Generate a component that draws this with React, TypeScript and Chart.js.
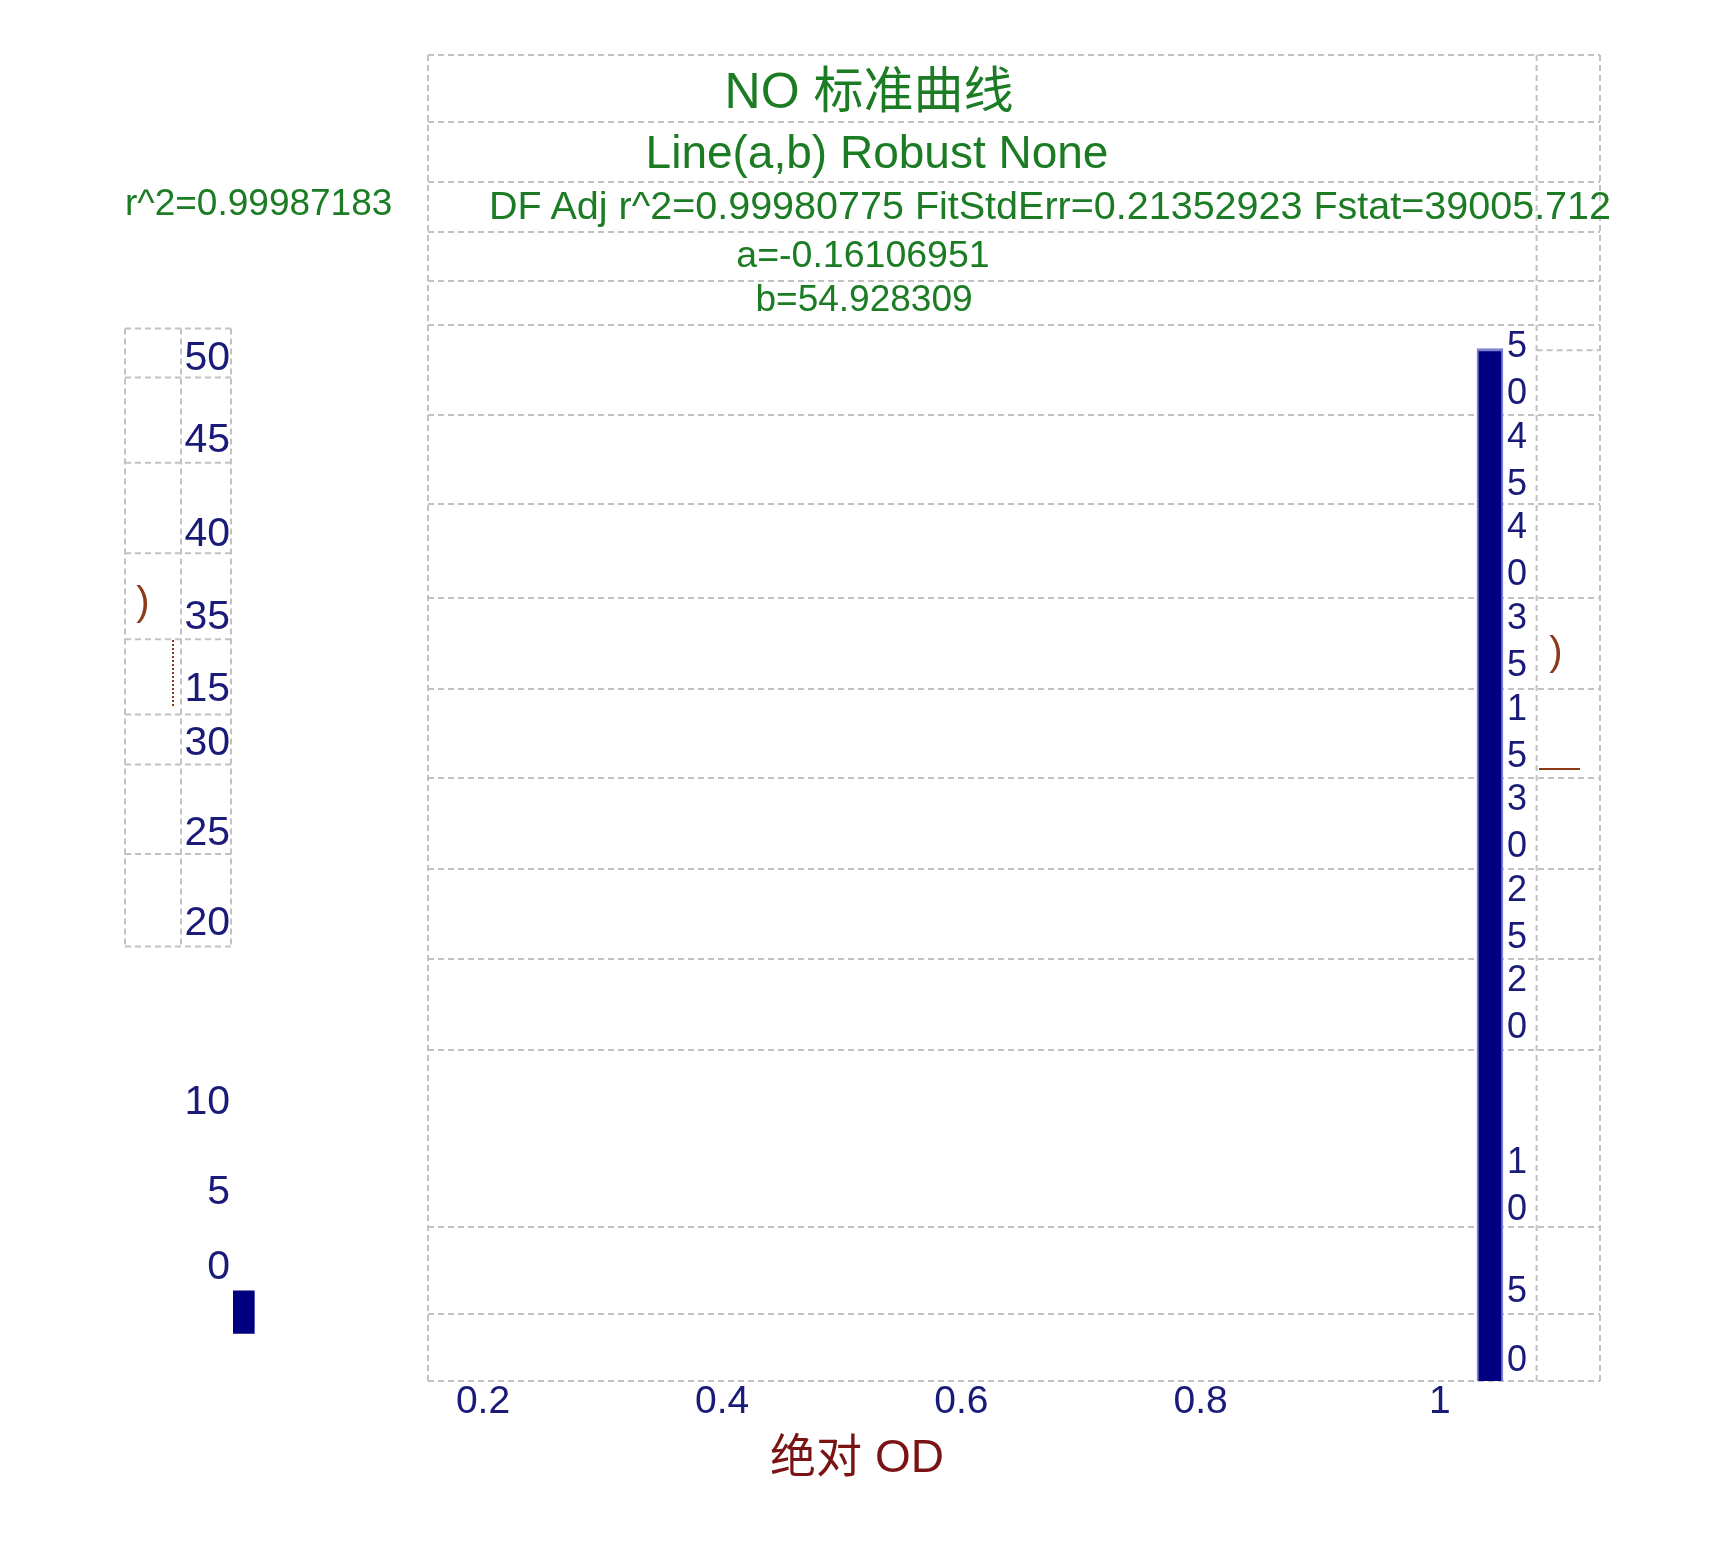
import { useEffect, useRef } from "react";
import { Chart, registerables, ChartConfiguration, Plugin, Scale } from "chart.js";

Chart.register(...registerables);

// x axis (absolute OD)
const xTickValues: number[] = [0.2, 0.4, 0.6, 0.8, 1];
const xMin = 0.154;
const xMax = 1.134;
const dividerX = 1.081;

// y axis is laid out in "slots", the labels are what the picture prints
const yMin = -0.196;
const yMax = 11.46;
const rightTickLabels: string[] = ["50", "45", "40", "35", "15", "30", "25", "20", "10", "5", "0"];
const rightTickSlots: number[] = [10.955, 9.955, 8.955, 7.955, 6.955, 5.955, 4.955, 3.955, 1.955, 0.785, 0.025];
const leftTickLabels: string[] = ["50", "45", "40", "35", "15", "30", "25", "20", "10", "5", "0"];
const leftTickSlots: number[] = [11.09, 10.18, 9.15, 8.23, 7.43, 6.84, 5.85, 4.85, 2.88, 1.88, 1.06];
const gridSlots: number[] = [10.47, 9.48, 8.45, 7.44, 6.46, 5.46, 4.46, 3.46, 1.5, 0.54];
const leftTableSlots: number[] = [11.42, 10.88, 9.94, 8.94, 7.99, 7.16, 6.61, 5.62, 4.6];
const sideRuleSlots: number[] = [11.18];

// bars: x position, low, high
const barX: number[] = [1.042, 0];
const barLow: number[] = [yMin, 0.33];
const barHigh: number[] = [11.2, 0.8];

// header texts
const titleText = "NO 标准曲线";
const fitText = "Line(a,b) Robust None";
const statText = "DF Adj r^2=0.99980775 FitStdErr=0.21352923 Fstat=39005.712";
const aText = "a=-0.16106951";
const bText = "b=54.928309";
const r2Text = "r^2=0.99987183";
const xTitle = "绝对 OD";

const NAVY = "#000080";
const NAVY_TEXT = "#1a1a78";
const GREEN = "#1c7c24";
const BROWN = "#7a1414";
const GRID = "#c2c2c2";
const FONT = '"Liberation Sans", Arial, sans-serif';
const CJK_FONT = '"Liberation Sans", "Noto Sans CJK SC", sans-serif';

const HEADER_ROWS = [55, 122, 182, 232, 281];
const LEFT_TABLE_X = [125, 181, 231];

function setTicks(values: number[]) {
  return (scale: Scale) => {
    scale.ticks = values.map((value) => ({ value }));
  };
}

// fixed axis size, and no extra room asked for by half-hanging labels
function fixSize(size: number) {
  return (scale: any) => {
    if (scale.isHorizontal()) scale.height = size;
    else scale.width = size;
    scale.paddingTop = 0;
    scale.paddingBottom = 0;
    scale.paddingLeft = 0;
    scale.paddingRight = 0;
  };
}

const framePlugin: Plugin<"bar"> = {
  id: "frame",
  beforeDatasetsDraw(chart) {
    const { ctx, chartArea, scales } = chart;
    const yScale = scales.y;
    const divider = scales.x.getPixelForValue(dividerX);
    ctx.save();
    ctx.strokeStyle = GRID;
    ctx.lineWidth = 2;
    ctx.setLineDash([6, 4]);
    const hLine = (y: number, x1: number, x2: number) => {
      ctx.beginPath();
      ctx.moveTo(x1, y);
      ctx.lineTo(x2, y);
      ctx.stroke();
    };
    const vLine = (x: number, y1: number, y2: number) => {
      ctx.beginPath();
      ctx.moveTo(x, y1);
      ctx.lineTo(x, y2);
      ctx.stroke();
    };
    HEADER_ROWS.forEach((y) => hLine(y, chartArea.left, chartArea.right));
    hLine(chartArea.top, chartArea.left, chartArea.right);
    hLine(chartArea.bottom, chartArea.left, chartArea.right);
    [chartArea.left, divider, chartArea.right].forEach((x) =>
      vLine(x, HEADER_ROWS[0], chartArea.bottom)
    );
    sideRuleSlots.forEach((s) => hLine(yScale.getPixelForValue(s), divider, chartArea.right));
    const tableY = leftTableSlots.map((s) => yScale.getPixelForValue(s));
    tableY.forEach((y) => hLine(y, LEFT_TABLE_X[0], LEFT_TABLE_X[2]));
    LEFT_TABLE_X.forEach((x) => vLine(x, tableY[0], tableY[tableY.length - 1]));
    ctx.restore();
  },
};

type Label = {
  text: string;
  x: number;
  y: number;
  size: number;
  color: string;
  align: "center" | "left";
};

const overlayLabels: Label[] = [
  { text: titleText, x: 869, y: 91, size: 50, color: GREEN, align: "center" },
  { text: fitText, x: 877, y: 152, size: 46, color: GREEN, align: "center" },
  { text: statText, x: 489, y: 206, size: 39.5, color: GREEN, align: "left" },
  { text: aText, x: 863, y: 255, size: 37.5, color: GREEN, align: "center" },
  { text: bText, x: 864, y: 298, size: 37, color: GREEN, align: "center" },
  { text: r2Text, x: 125, y: 202, size: 37, color: GREEN, align: "left" },
  { text: xTitle, x: 857, y: 1456, size: 46, color: BROWN, align: "center" },
  { text: ")", x: 143, y: 601, size: 40, color: "#8b3a1a", align: "center" },
  { text: ")", x: 1556, y: 651, size: 40, color: "#8b3a1a", align: "center" },
];

function StandardCurve() {
  const chartRef = useRef<HTMLCanvasElement | null>(null);

  useEffect(() => {
    if (!chartRef.current) return;
    const config: ChartConfiguration<"bar"> = {
      type: "bar",
      data: {
        datasets: [
          {
            data: [{ x: barX[0], y: [barLow[0], barHigh[0]] }] as any,
            backgroundColor: NAVY,
            borderColor: "#8080d0",
            borderWidth: { left: 2, right: 2, top: 3, bottom: 0 },
            borderSkipped: false,
            barThickness: 26,
            grouped: false,
            yAxisID: "y",
          },
          {
            data: [{ x: barX[1], y: [barLow[1], barHigh[1]] }] as any,
            backgroundColor: NAVY,
            borderWidth: 0,
            barThickness: 21,
            grouped: false,
            clip: false as any,
            yAxisID: "y",
          },
        ],
      },
      options: {
        animation: false,
        responsive: true,
        maintainAspectRatio: false,
        layout: { padding: { left: 0, right: 130, top: 325, bottom: 0 } },
        plugins: {
          legend: { display: false },
          tooltip: { enabled: false },
        },
        scales: {
          x: {
            type: "linear",
            position: "bottom",
            offset: false,
            min: xMin,
            max: xMax,
            afterBuildTicks: setTicks(xTickValues),
            afterFit: fixSize(178),
            ticks: {
              autoSkip: false,
              maxRotation: 0,
              padding: -2,
              color: NAVY_TEXT,
              font: { family: FONT, size: 39 },
              callback: (v) => String(Number(v)),
            },
            grid: { display: false, drawTicks: false },
            border: { display: false },
          },
          yLeft: {
            type: "linear",
            position: "left",
            min: yMin,
            max: yMax,
            afterBuildTicks: setTicks(leftTickSlots),
            afterFit: fixSize(428),
            ticks: {
              autoSkip: false,
              padding: 198,
              color: NAVY_TEXT,
              font: { family: FONT, size: 41 },
              callback: (_v, i) => leftTickLabels[i],
            },
            grid: { display: false, drawTicks: false },
            border: { display: false },
          },
          y: {
            type: "linear",
            position: "right",
            min: yMin,
            max: yMax,
            afterBuildTicks: setTicks(rightTickSlots),
            afterFit: fixSize(0),
            ticks: {
              autoSkip: false,
              mirror: true,
              padding: -73,
              color: NAVY_TEXT,
              font: { family: FONT, size: 36, lineHeight: "47px" },
              callback: (_v, i) => rightTickLabels[i].split(""),
            },
            grid: { display: false, drawTicks: false },
            border: { display: false },
          },
          yGrid: {
            type: "linear",
            position: "right",
            min: yMin,
            max: yMax,
            z: 1,
            afterBuildTicks: setTicks(gridSlots),
            afterFit: fixSize(0),
            ticks: { display: false },
            grid: { color: GRID, lineWidth: 2, drawTicks: false },
            border: { display: false, dash: [6, 4] },
          },
        },
      },
      plugins: [framePlugin],
    };
    const chart = new Chart(chartRef.current, config);
    return () => chart.destroy();
  }, []);

  return (
    <div style={{ position: "fixed", left: 0, top: 0, width: 1730, height: 1559, background: "#fff" }}>
      <canvas ref={chartRef} />
      {overlayLabels.map((l, i) => (
        <div
          key={i}
          style={{
            position: "absolute",
            left: l.x,
            top: l.y,
            transform: l.align === "center" ? "translate(-50%, -50%)" : "translate(0, -50%)",
            fontFamily: CJK_FONT,
            fontSize: l.size,
            lineHeight: 1,
            color: l.color,
            whiteSpace: "nowrap",
          }}
        >
          {l.text}
        </div>
      ))}
      <div style={{ position: "absolute", left: 1539, top: 768, width: 41, borderTop: `2px solid #8b3a1a` }} />
      <div style={{ position: "absolute", left: 172, top: 640, height: 66, borderLeft: `2px dotted #8b3a1a` }} />
    </div>
  );
}

export default function App() {
  return <StandardCurve />;
}
